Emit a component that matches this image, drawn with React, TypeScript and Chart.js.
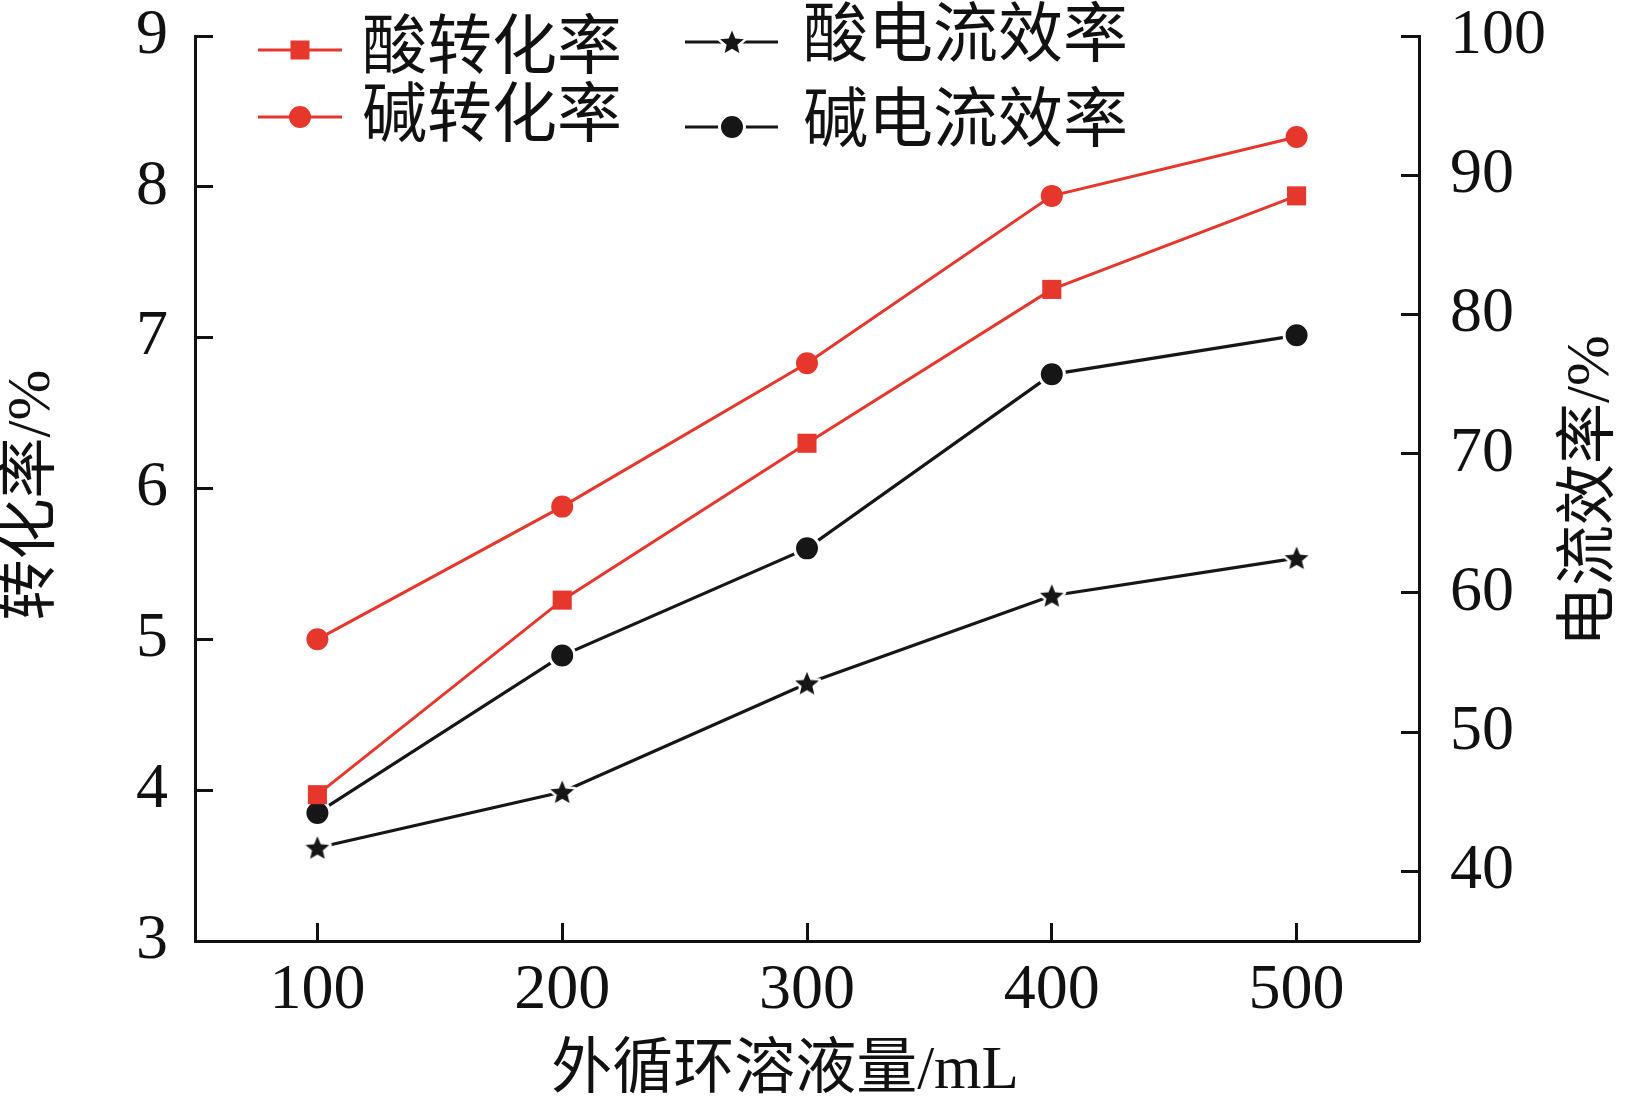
import React, { useEffect, useRef } from 'react';
import { Chart, registerables } from 'chart.js';

Chart.register(...registerables);

// ---- data ----
const volumes = [100, 200, 300, 400, 500];
const acidConversion = [3.97, 5.26, 6.3, 7.32, 7.94];
const baseConversion = [5.0, 5.88, 6.83, 7.94, 8.33];
const acidEfficiency = [41.7, 45.7, 53.5, 59.8, 62.5];
const baseEfficiency = [44.2, 55.5, 63.2, 75.7, 78.5];
const xTicks = [100, 200, 300, 400, 500];
const leftTicks = [3, 4, 5, 6, 7, 8, 9];
const rightTicks = [40, 50, 60, 70, 80, 90, 100];
const seriesNames = ['酸转化率', '碱转化率', '酸电流效率', '碱电流效率'];
const xTitle = '外循环溶液量/mL';
const leftTitle = '转化率/%';
const rightTitle = '电流效率/%';

// ---- styles ----
const RED = '#e5372c';
const BLK = '#161616';
const TXT = '#111111';
const FONT = "'Liberation Serif', 'Noto Sans CJK SC', serif";
const W = 1636;
const H = 1116;

function makeStar(outer: number, color: string, ring: number): HTMLCanvasElement {
  const size = Math.ceil((outer + ring) * 2 + 4);
  const c = document.createElement('canvas');
  c.width = size;
  c.height = size;
  const ctx = c.getContext('2d')!;
  const cx = size / 2;
  const cy = size / 2 + 1;
  const inner = outer * 0.45;
  ctx.beginPath();
  for (let i = 0; i < 10; i++) {
    const r = i % 2 === 0 ? outer : inner;
    const a = -Math.PI / 2 + (i * Math.PI) / 5;
    const px = cx + r * Math.cos(a);
    const py = cy + r * Math.sin(a);
    if (i === 0) ctx.moveTo(px, py);
    else ctx.lineTo(px, py);
  }
  ctx.closePath();
  if (ring > 0) {
    ctx.lineJoin = 'round';
    ctx.lineWidth = ring * 2;
    ctx.strokeStyle = '#ffffff';
    ctx.stroke();
  }
  ctx.fillStyle = color;
  ctx.fill();
  return c;
}

function drawMarker(ctx: CanvasRenderingContext2D, style: string, x: number, y: number, color: string, star: HTMLCanvasElement) {
  ctx.save();
  if (style === 'rect') {
    ctx.fillStyle = color;
    ctx.fillRect(x - 9.5, y - 9.5, 19, 19);
  } else if (style === 'circle') {
    ctx.fillStyle = color;
    ctx.beginPath();
    ctx.arc(x, y, 11, 0, Math.PI * 2);
    ctx.fill();
  } else if (style === 'circleRing') {
    ctx.beginPath();
    ctx.arc(x, y, 12.5, 0, Math.PI * 2);
    ctx.fillStyle = color;
    ctx.fill();
    ctx.lineWidth = 3;
    ctx.strokeStyle = '#ffffff';
    ctx.stroke();
  } else if (style === 'star') {
    ctx.drawImage(star, x - star.width / 2, y - star.height / 2);
  }
  ctx.restore();
}

export default function App() {
  const canvasRef = useRef<HTMLCanvasElement | null>(null);

  useEffect(() => {
    const canvas = canvasRef.current;
    if (!canvas) return;
    const star = makeStar(12.5, BLK, 2.5);

    const legendItems = [
      { name: seriesNames[0], x0: 258, x1: 342, mx: 300, y: 50, ty: 51, tx: 362, style: 'rect', color: RED },
      { name: seriesNames[1], x0: 258, x1: 342, mx: 300, y: 117, ty: 119, tx: 362, style: 'circle', color: RED },
      { name: seriesNames[2], x0: 685, x1: 778, mx: 732, y: 42, ty: 39, tx: 803, style: 'star', color: BLK },
      { name: seriesNames[3], x0: 685, x1: 778, mx: 732, y: 127, ty: 124, tx: 803, style: 'circleRing', color: BLK },
    ];

    const annotPlugin = {
      id: 'annot',
      afterDraw(chart: any) {
        const ctx: CanvasRenderingContext2D = chart.ctx;
        ctx.save();
        // legend
        for (const it of legendItems) {
          ctx.strokeStyle = it.color;
          ctx.lineWidth = 3;
          ctx.beginPath();
          ctx.moveTo(it.x0, it.y);
          ctx.lineTo(it.x1, it.y);
          ctx.stroke();
          drawMarker(ctx, it.style, it.mx, it.y, it.color, star);
          ctx.fillStyle = TXT;
          ctx.font = `65px ${FONT}`;
          ctx.textAlign = 'left';
          ctx.textBaseline = 'middle';
          ctx.fillText(it.name, it.tx, it.ty);
        }
        // axis titles
        ctx.fillStyle = TXT;
        ctx.font = `61px ${FONT}`;
        ctx.textAlign = 'center';
        ctx.textBaseline = 'middle';
        ctx.fillText(xTitle, 785, 1072);

        ctx.save();
        ctx.translate(33, 495);
        ctx.rotate(-Math.PI / 2);
        ctx.fillText(leftTitle, 0, 0);
        ctx.restore();

        ctx.save();
        ctx.translate(1592, 491);
        ctx.rotate(-Math.PI / 2);
        ctx.fillText(rightTitle, 0, 0);
        ctx.restore();

        ctx.restore();
      },
    };

    const tickFont = { family: FONT, size: 64 };
    const gridOpts = { drawOnChartArea: false, tickLength: -18, tickWidth: 3, tickColor: TXT };
    const borderOpts = { color: TXT, width: 3 };
    const zeroPad = (s: any) => {
      s.paddingTop = 0;
      s.paddingBottom = 0;
      s.paddingLeft = 0;
      s.paddingRight = 0;
    };

    const chart = new Chart(canvas, {
      type: 'line',
      data: {
        datasets: [
          {
            label: seriesNames[0],
            data: volumes.map((x, i) => ({ x, y: acidConversion[i] })),
            yAxisID: 'y',
            borderColor: RED,
            backgroundColor: RED,
            borderWidth: 3,
            pointStyle: 'rect',
            pointRadius: 13.5,
            pointBorderWidth: 0,
            pointBackgroundColor: RED,
          },
          {
            label: seriesNames[1],
            data: volumes.map((x, i) => ({ x, y: baseConversion[i] })),
            yAxisID: 'y',
            borderColor: RED,
            backgroundColor: RED,
            borderWidth: 3,
            pointStyle: 'circle',
            pointRadius: 11,
            pointBorderWidth: 0,
            pointBackgroundColor: RED,
          },
          {
            label: seriesNames[2],
            data: volumes.map((x, i) => ({ x, y: acidEfficiency[i] })),
            yAxisID: 'y1',
            borderColor: BLK,
            backgroundColor: BLK,
            borderWidth: 3.2,
            pointStyle: star,
            pointRadius: 12,
            pointBorderWidth: 0,
          },
          {
            label: seriesNames[3],
            data: volumes.map((x, i) => ({ x, y: baseEfficiency[i] })),
            yAxisID: 'y1',
            borderColor: BLK,
            backgroundColor: BLK,
            borderWidth: 3.2,
            pointStyle: 'circle',
            pointRadius: 12.5,
            pointBorderWidth: 3,
            pointBorderColor: '#ffffff',
            pointBackgroundColor: BLK,
          },
        ],
      },
      options: {
        responsive: false,
        animation: false,
        devicePixelRatio: 1,
        layout: { padding: { top: 36, left: 0, right: 0, bottom: 0 }, autoPadding: false },
        plugins: { legend: { display: false }, tooltip: { enabled: false } },
        events: [],
        scales: {
          x: {
            type: 'linear',
            position: 'bottom',
            min: 50,
            max: 550,
            afterBuildTicks: (s: any) => {
              s.ticks = xTicks.map((v) => ({ value: v }));
            },
            afterFit: (s: any) => {
              s.height = 175;
              zeroPad(s);
            },
            ticks: { font: tickFont, color: TXT, padding: 30, maxRotation: 0, callback: (v: any) => String(v) },
            grid: gridOpts,
            border: borderOpts,
          },
          y: {
            type: 'linear',
            position: 'left',
            min: 3,
            max: 9,
            afterBuildTicks: (s: any) => {
              s.ticks = leftTicks.map((v) => ({ value: v }));
            },
            afterFit: (s: any) => {
              s.width = 195;
              zeroPad(s);
            },
            ticks: { font: tickFont, color: TXT, padding: 45, callback: (v: any) => String(v) },
            grid: gridOpts,
            border: borderOpts,
          },
          y1: {
            type: 'linear',
            position: 'right',
            min: 35,
            max: 100,
            afterBuildTicks: (s: any) => {
              s.ticks = rightTicks.map((v) => ({ value: v }));
            },
            afterFit: (s: any) => {
              s.width = 217;
              zeroPad(s);
            },
            ticks: { font: tickFont, color: TXT, padding: 49, callback: (v: any) => String(v) },
            grid: gridOpts,
            border: borderOpts,
          },
        },
      },
      plugins: [annotPlugin],
    } as any);

    return () => {
      chart.destroy();
    };
  }, []);

  return (
    <div style={{ position: 'absolute', left: 0, top: 0, width: W, height: H, background: '#ffffff' }}>
      <canvas ref={canvasRef} width={W} height={H} style={{ display: 'block', width: W, height: H }} />
    </div>
  );
}
